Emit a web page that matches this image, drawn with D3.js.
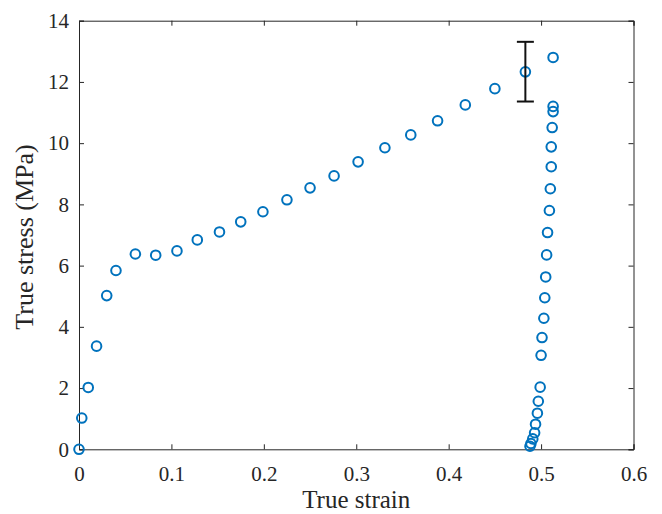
<!DOCTYPE html>
<html><head><meta charset="utf-8">
<script src="https://cdn.jsdelivr.net/npm/d3@7"></script>
<style>body{margin:0;background:#fff} svg text{font-family:'Liberation Serif','Times New Roman',serif}</style>
</head><body>
<svg id="c" width="662" height="514"></svg>
<script>
const strain = [0,0.003,0.010,0.019,0.030,0.040,0.061,0.083,0.106,0.128,0.152,0.175,0.199,0.225,0.250,0.276,0.302,0.331,0.359,0.388,0.418,0.450,0.483,0.513,
  0.513,0.513,0.512,0.511,0.511,0.510,0.509,0.507,0.506,0.505,0.504,0.503,0.501,0.500,0.499,0.497,0.496,0.494,0.493,0.491,0.489,0.488];
const stress = [0,1.02,2.02,3.37,5.02,5.84,6.38,6.34,6.48,6.84,7.10,7.43,7.76,8.15,8.54,8.93,9.39,9.85,10.27,10.73,11.25,11.78,12.33,12.80,
  11.20,11.03,10.51,9.88,9.23,8.51,7.80,7.08,6.35,5.63,4.95,4.28,3.65,3.07,2.03,1.57,1.18,0.82,0.54,0.34,0.19,0.10];
const errPoint = {x:0.483, lo:11.36, hi:13.31};
const xTicks = [0,0.1,0.2,0.3,0.4,0.5,0.6];
const yTicks = [0,2,4,6,8,10,12,14];

const svg = d3.select("#c");
const L=79, R=633.5, T=20.7, B=449.3;
const x = d3.scaleLinear().domain([0,0.6]).range([L,R]);
const y = d3.scaleLinear().domain([0,14]).range([B,T]);
const axCol="#262626", font="'Liberation Serif','Times New Roman',serif";

const gx = svg.append("g").attr("transform",`translate(0,${B})`)
  .call(d3.axisBottom(x).tickValues(xTicks).tickSize(-5).tickPadding(17).tickFormat(d=>d===0?"0":d3.format("")(d)));
const gxt = svg.append("g").attr("transform",`translate(0,${T})`)
  .call(d3.axisTop(x).tickValues(xTicks).tickSize(-5).tickFormat(""));
const gy = svg.append("g").attr("transform",`translate(${L},0)`)
  .call(d3.axisLeft(y).tickValues(yTicks).tickSize(-5).tickPadding(10));
const gyr = svg.append("g").attr("transform",`translate(${R},0)`)
  .call(d3.axisRight(y).tickValues(yTicks).tickSize(-5).tickFormat(""));
[gx,gxt,gy,gyr].forEach(g=>{
  g.attr("font-family",null).attr("font-size",null);
  g.select(".domain").attr("stroke",axCol).attr("stroke-width",1);
  g.selectAll(".tick line").attr("stroke",axCol);
  g.selectAll("text").style("font-family",font).style("font-size","21px").attr("fill","#262626");
});

svg.append("text").attr("x",(L+R)/2).attr("y",508).attr("text-anchor","middle")
  .style("font-family",font).style("font-size","25px").attr("fill","#262626").text("True strain");
svg.append("text").attr("transform",`translate(33,237) rotate(-90)`).attr("text-anchor","middle")
  .style("font-family",font).style("font-size","26px").attr("fill","#262626").text("True stress (MPa)");

const data = strain.map((s,i)=>({s, t:stress[i]}));
svg.append("g").selectAll("circle").data(data).join("circle")
  .attr("cx",d=>x(d.s)).attr("cy",d=>y(d.t)).attr("r",4.8)
  .attr("fill","none").attr("stroke","#0072BD").attr("stroke-width",2);

const eb = svg.append("g").attr("stroke","#111").attr("stroke-width",2);
eb.append("line").attr("x1",x(errPoint.x)).attr("x2",x(errPoint.x)).attr("y1",y(errPoint.lo)).attr("y2",y(errPoint.hi));
[errPoint.lo,errPoint.hi].forEach(v=>eb.append("line").attr("x1",x(errPoint.x)-8.5).attr("x2",x(errPoint.x)+8.5).attr("y1",y(v)).attr("y2",y(v)));
</script>
</body></html>
